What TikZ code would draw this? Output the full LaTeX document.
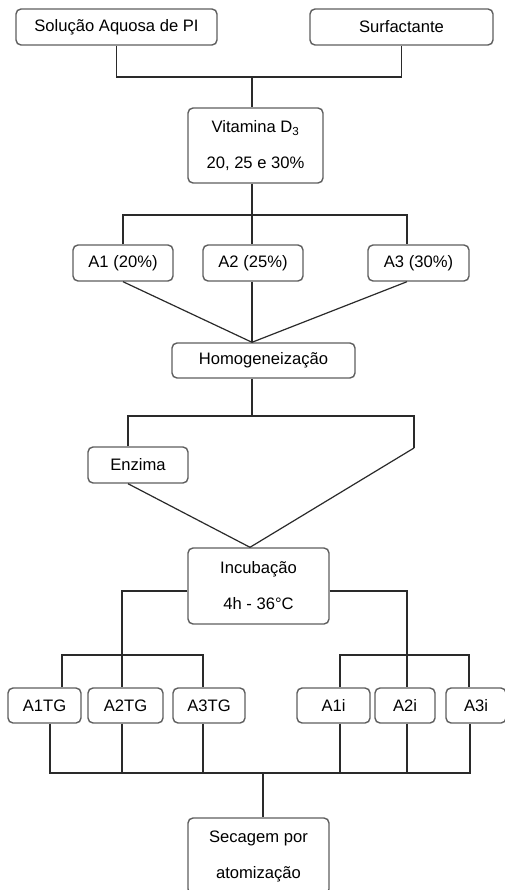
\documentclass[tikz,border=0pt]{standalone}
\usepackage{fontspec}
\setmainfont{Liberation Sans}
\definecolor{boxline}{HTML}{5E5E5E}
\definecolor{conline}{HTML}{2A2A2A}
\begin{document}
\begin{tikzpicture}[x=1pt,y=-1pt,
  box/.style={draw=boxline,line width=1.4pt,rounded corners=5pt,fill=white,
    inner sep=0pt,font=\fontsize{16.6}{36}\selectfont,align=center},
  con/.style={draw=conline,line width=1.2pt}]
\useasboundingbox[fill=white] (0,0) rectangle (505,890);
% boxes
\node[box,minimum width=201,minimum height=36] (sol) at (116.5,27) {Solução Aquosa de PI};
\node[box,minimum width=183,minimum height=36] (surf) at (401.5,27) {Surfactante};
\node[box,minimum width=135,minimum height=75] (vit) at (255.5,145.5) {Vitamina D\textsubscript{3}\\20, 25 e 30\%};
\node[box,minimum width=100,minimum height=36] (a1) at (123,263) {A1 (20\%)};
\node[box,minimum width=100,minimum height=36] (a2) at (253,263) {A2 (25\%)};
\node[box,minimum width=101,minimum height=36] (a3) at (418.5,263) {A3 (30\%)};
\node[box,minimum width=183,minimum height=35] (hom) at (263.5,360.5) {Homogeneização};
\node[box,minimum width=100,minimum height=36] (enz) at (138,465) {Enzima};
\node[box,minimum width=141,minimum height=76] (inc) at (258.5,586) {Incubação\\4h - 36°C};
\node[box,minimum width=73,minimum height=35] (a1tg) at (44.5,705.5) {A1TG};
\node[box,minimum width=75,minimum height=35] (a2tg) at (125.5,705.5) {A2TG};
\node[box,minimum width=72,minimum height=35] (a3tg) at (209,705.5) {A3TG};
\node[box,minimum width=73,minimum height=35] (a1i) at (333.5,705.5) {A1i};
\node[box,minimum width=60,minimum height=35] (a2i) at (405,705.5) {A2i};
\node[box,minimum width=60,minimum height=35] (a3i) at (476,705.5) {A3i};
\node[box,minimum width=141,minimum height=76] (sec) at (258.5,856) {Secagem por\\atomização};
% junction coordinates
\coordinate (j1) at (252,77);
\coordinate (j2) at (252,215);
\coordinate (c3) at (407,0);
\coordinate (j3) at (252,343);
\coordinate (j4) at (252,416);
\coordinate (ce) at (128,0);
\coordinate (rr) at (414,448);
\coordinate (j5) at (250,548);
\coordinate (lk) at (122,591);
\coordinate (rk) at (407,591);
\coordinate (lh) at (122,655);
\coordinate (rh) at (407,655);
\coordinate (x1) at (62,0);
\coordinate (x2) at (122,0);
\coordinate (x3) at (203,0);
\coordinate (x4) at (340,0);
\coordinate (x5) at (407,0);
\coordinate (x6) at (469,0);
\coordinate (b1) at (50,773);
\coordinate (b6) at (470,773);
\coordinate (bm) at (263,773);
% connectors
\draw[con] (sol.south) |- (j1) -| (surf.south);
\draw[con] (j1) -- (j1 |- vit.north);
\draw[con] (j2 |- vit.south) -- (j2);
\draw[con] (a1.north) |- (j2) -| (c3 |- a3.north);
\draw[con] (j2) -- (j2 |- a2.north);
\draw[con] (a1.south) -- (j3 |- hom.north);
\draw[con] (c3 |- a3.south) -- (j3 |- hom.north);
\draw[con] (j3 |- a2.south) -- (j3 |- hom.north);
\draw[con] (j4 |- hom.south) -- (j4);
\draw[con] (ce |- enz.north) |- (j4) -| (rr);
\draw[con] (rr) -- (j5 |- inc.north);
\draw[con] (ce |- enz.south) -- (j5 |- inc.north);
\draw[con] (inc.west |- lk) -- (lk) -- (lh);
\draw[con] (inc.east |- rk) -- (rk) -- (rh);
\draw[con] (x1 |- a1tg.north) |- (lh) -| (x3 |- a3tg.north);
\draw[con] (lh) -- (x2 |- a2tg.north);
\draw[con] (x4 |- a1i.north) |- (rh) -| (x6 |- a3i.north);
\draw[con] (rh) -- (x5 |- a2i.north);
\draw[con] (b1 |- a1tg.south) -- (b1) -- (b6) -- (b6 |- a3i.south);
\draw[con] (x2 |- a2tg.south) -- (x2 |- b1);
\draw[con] (x3 |- a3tg.south) -- (x3 |- b1);
\draw[con] (x4 |- a1i.south) -- (x4 |- b1);
\draw[con] (x5 |- a2i.south) -- (x5 |- b1);
\draw[con] (bm) -- (bm |- sec.north);
\end{tikzpicture}
\end{document}
